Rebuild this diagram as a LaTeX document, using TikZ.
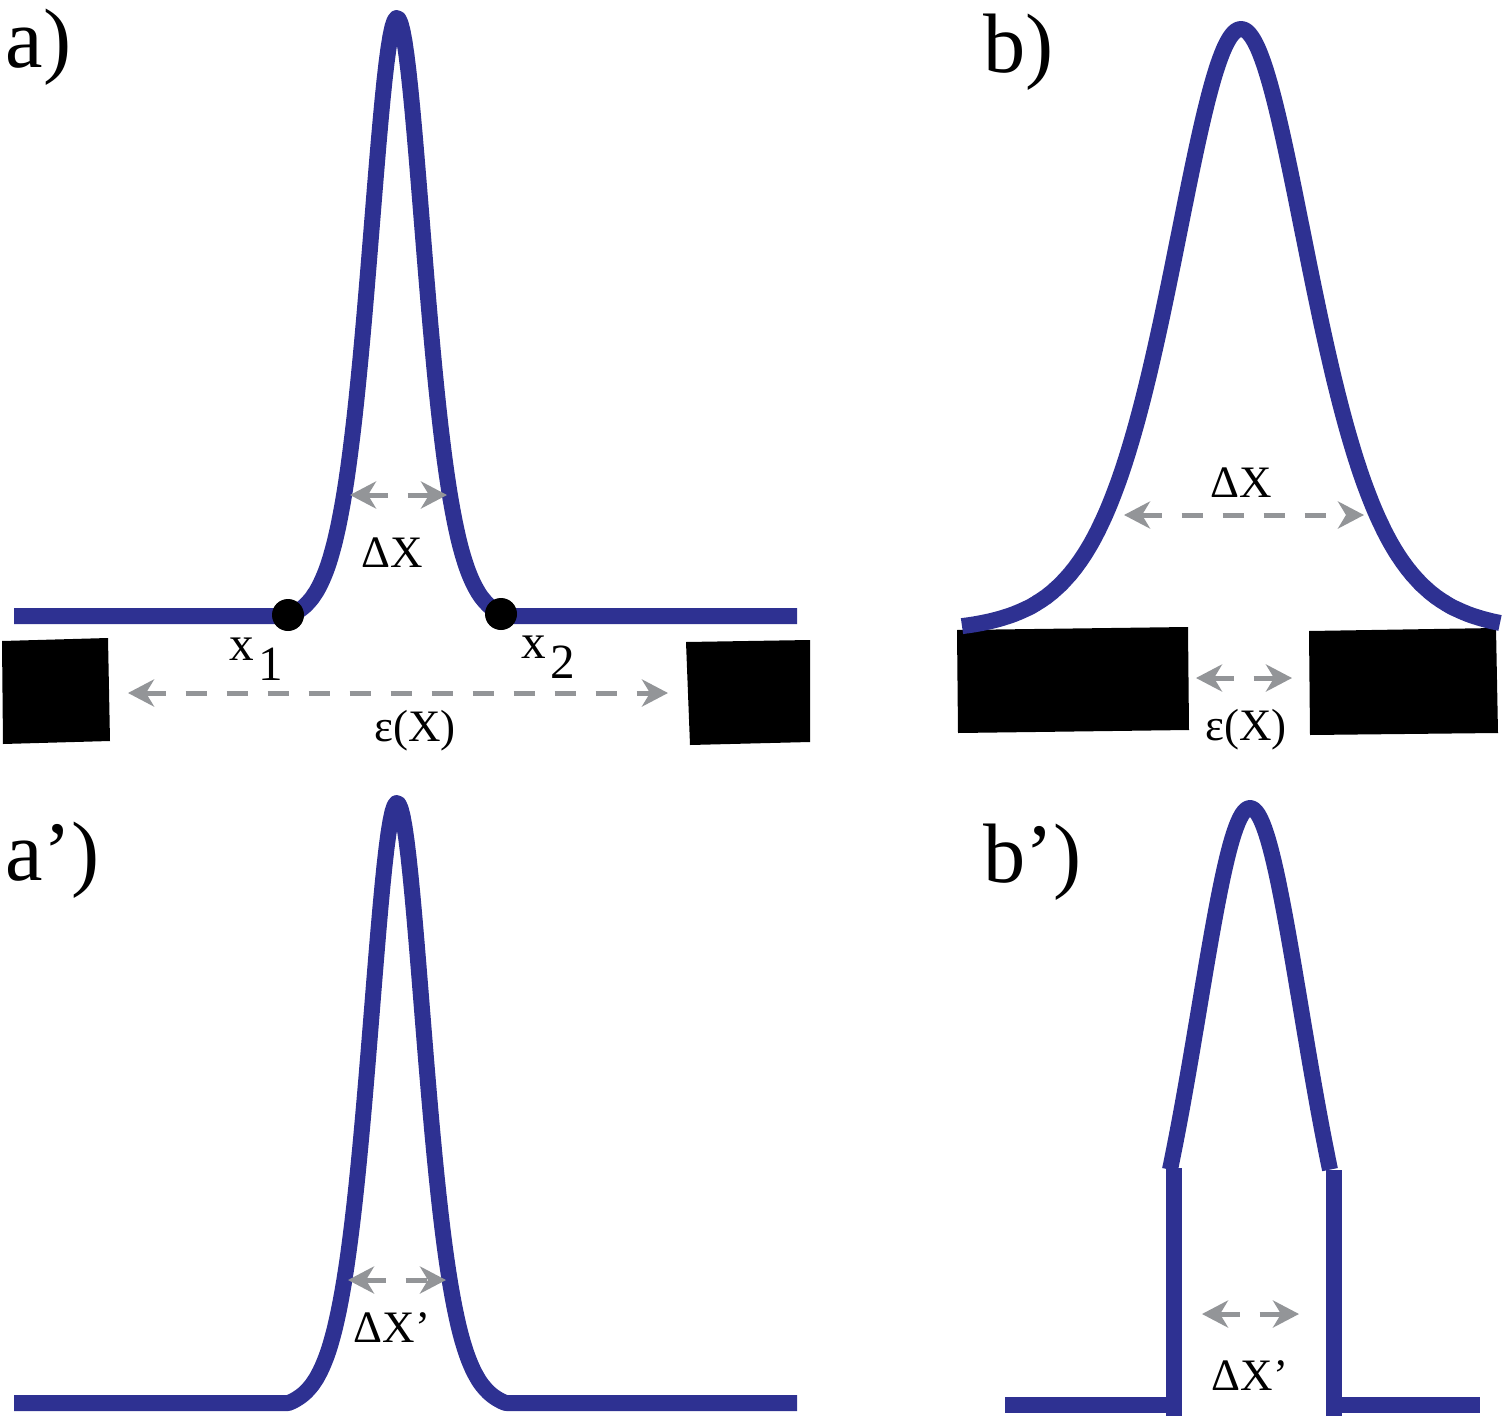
\documentclass[tikz,border=0pt]{standalone}
\usepackage{fontspec}
\setmainfont{Liberation Serif}
\usetikzlibrary{arrows.meta}
\definecolor{wave}{HTML}{2E3192}
\definecolor{dimgray}{HTML}{939598}
\begin{document}
\begin{tikzpicture}[x=0.1mm,y=-0.1mm,
  declare function={sechsq(\t)=4*exp(-2*min(abs(\t),7))/(1+exp(-2*min(abs(\t),7)))^2;
                    pk(\t)=max(sechsq(\t)-0.012,0)/0.988;},
  curve/.style={draw=wave, line width=1.6mm, line join=round},
  block/.style={fill=black},
  dimarrow/.style={draw=dimgray, line width=0.5mm, dash pattern=on 2.1mm off 2mm,
    {Stealth[length=2.6mm,width=2.7mm,inset=0.8mm]}-{Stealth[length=2.6mm,width=2.7mm,inset=0.8mm]}},
  panel/.style={inner sep=0, anchor=base west, font=\fontsize{24}{28}\selectfont},
  lbl/.style={inner sep=0, anchor=base, font=\fontsize{12.8}{15}\selectfont},
  xlbl/.style={inner sep=0, anchor=base west, font=\fontsize{14}{16}\selectfont},
  dot/.style={circle, fill=black, minimum size=3.2mm, inner sep=0}
]
\useasboundingbox (0,0) rectangle (1505,1416);

% ---------- panel labels
\node[panel] (la) at (5,67) {a)};
\node[panel] (lb) at (983,72) {b)};
\node[panel] (la2) at (5,880) {a’)};
\node[panel] (lb2) at (983,882) {b’)};

% ---------- panel a
\fill[block] (2,641) -- (108,638) -- (110,741) -- (3,744) -- cycle;
\fill[block] (686,642) -- (810,640) -- (810,742) -- (690,745) -- cycle;
\draw[curve] plot[domain=14:797, samples=392] (\x,{616-598*pk((\x-397)/37.5)});
\node[dot] (p1) at (288,615) {};
\node[dot] (p2) at (501,614) {};
\node[xlbl] (x1) at (229,660) {x\hspace{0.4mm}\raisebox{-2mm}{1}};
\node[xlbl] (x2) at (521,658) {x\hspace{0.4mm}\raisebox{-2mm}{2}};
\coordinate (aL) at (350,495);
\coordinate (aR) at (447,495);
\draw[dimarrow] (aL) -- (aR);
\node[lbl] (dxa) at (392,567) {ΔX};
\coordinate (eL) at (128,693);
\coordinate (eR) at (668,693);
\draw[dimarrow] (eL) -- (eR);
\node[lbl] (epsa) at (415,741) {ε(X)};

% ---------- panel b
\fill[block] (957,630) -- (1188,627) -- (1189,730) -- (958,733) -- cycle;
\fill[block] (1309,631) -- (1496,628) -- (1498,733) -- (1310,735) -- cycle;
\draw[curve] plot[domain=962:1500, samples=270] (\x,{632-603*sechsq((\x-1241)/93)});
\coordinate (bL) at (1124,515);
\coordinate (bR) at (1364,515);
\draw[dimarrow] (bL) -- (bR);
\node[lbl] (dxb) at (1241,497) {ΔX};
\coordinate (fL) at (1196,678);
\coordinate (fR) at (1292,678);
\draw[dimarrow] (fL) -- (fR);
\node[lbl] (epsb) at (1246,740) {ε(X)};

% ---------- panel a'
\draw[curve] plot[domain=14:797, samples=392] (\x,{1403-600*pk((\x-397)/37.5)});
\coordinate (cL) at (348,1280);
\coordinate (cR) at (446,1280);
\draw[dimarrow] (cL) -- (cR);
\node[lbl] (dxa2) at (392,1342) {ΔX’};

% ---------- panel b'
\draw[curve] plot[domain=1170:1330, samples=81] (\x,{1406-598*sechsq((\x-1250)/77)});
\draw[curve] (1174,1168) -- (1174,1416);
\draw[curve] (1005,1405) -- (1174,1405);
\draw[curve] (1334,1170) -- (1334,1416);
\draw[curve] (1334,1405) -- (1480,1405);
\coordinate (dL) at (1202,1314);
\coordinate (dR) at (1299,1314);
\draw[dimarrow] (dL) -- (dR);
\node[lbl] (dxb2) at (1250,1390) {ΔX’};
\end{tikzpicture}
\end{document}
